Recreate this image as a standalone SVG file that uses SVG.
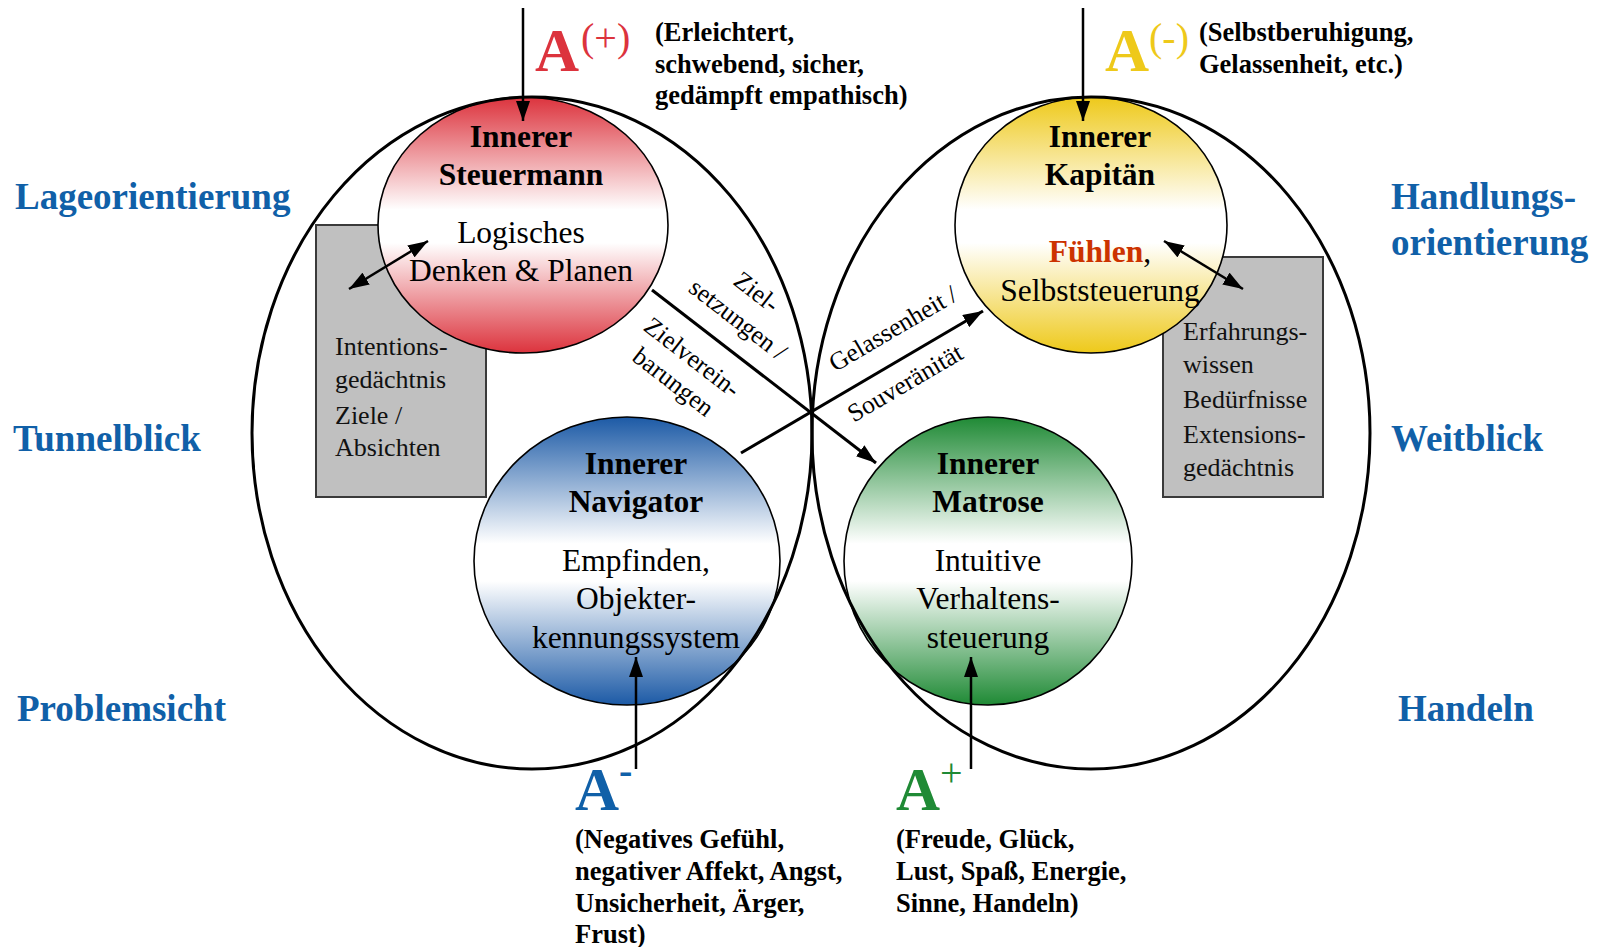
<svg xmlns="http://www.w3.org/2000/svg" width="1597" height="947" viewBox="0 0 1597 947">
<defs>
<style>
text{font-family:"Liberation Serif","Times New Roman",serif;}
.side{font-size:37px;font-weight:bold;fill:#1060a8;}
.ttl{font-size:31.5px;font-weight:bold;fill:#000;text-anchor:middle;}
.body{font-size:31.5px;fill:#000;text-anchor:middle;}
.box{font-size:26px;fill:#111;}
.hdr{font-size:26.5px;font-weight:bold;fill:#000;}
.bigA{font-size:61px;font-weight:bold;}
.sup{font-size:40px;}
.diag{font-size:25.5px;fill:#000;text-anchor:middle;}
.big{fill:none;stroke:#000;stroke-width:3;}
.circ{stroke:#000;stroke-width:1.6;}
.gbox{fill:#c0c0c0;stroke:#3a3a3a;stroke-width:2;}
.con{stroke:#000;stroke-width:3;fill:none;}
.con2{stroke:#000;stroke-width:2.5;fill:none;}
</style>
<linearGradient id="gRed" x1="0" y1="0" x2="0" y2="1">
<stop offset="0" stop-color="#dc333d"/><stop offset="0.44" stop-color="#fff"/><stop offset="0.57" stop-color="#fff"/><stop offset="1" stop-color="#dc333d"/>
</linearGradient>
<linearGradient id="gYel" x1="0" y1="0" x2="0" y2="1">
<stop offset="0" stop-color="#eec91a"/><stop offset="0.44" stop-color="#fff"/><stop offset="0.57" stop-color="#fff"/><stop offset="1" stop-color="#eec91a"/>
</linearGradient>
<linearGradient id="gBlu" x1="0" y1="0" x2="0" y2="1">
<stop offset="0" stop-color="#1c5aa6"/><stop offset="0.44" stop-color="#fff"/><stop offset="0.57" stop-color="#fff"/><stop offset="1" stop-color="#1c5aa6"/>
</linearGradient>
<linearGradient id="gGrn" x1="0" y1="0" x2="0" y2="1">
<stop offset="0" stop-color="#1f8a35"/><stop offset="0.44" stop-color="#fff"/><stop offset="0.57" stop-color="#fff"/><stop offset="1" stop-color="#1f8a35"/>
</linearGradient>
<marker id="ah" viewBox="0 0 20 14" refX="20" refY="7" markerWidth="20" markerHeight="14" markerUnits="userSpaceOnUse" orient="auto-start-reverse">
<path d="M0,0 L20,7 L0,14 z" fill="#000"/>
</marker>
</defs>
<rect x="0" y="0" width="1597" height="947" fill="#fff"/>

<g id="side-labels">
<text class="side" x="15" y="209">Lageorientierung</text>
<text class="side" x="13" y="451">Tunnelblick</text>
<text class="side" x="17" y="721">Problemsicht</text>
<text class="side" x="1391" y="209">Handlungs-</text>
<text class="side" x="1391" y="255">orientierung</text>
<text class="side" x="1391" y="451">Weitblick</text>
<text class="side" x="1398" y="721">Handeln</text>
</g>

<g id="box-intention">
<rect class="gbox" x="316" y="225" width="170" height="272"/>
<text class="box" x="335" y="355">Intentions-</text>
<text class="box" x="335" y="388">gedächtnis</text>
<text class="box" x="335" y="424">Ziele /</text>
<text class="box" x="335" y="456">Absichten</text>
</g>

<g id="box-extension">
<rect class="gbox" x="1163" y="257" width="160" height="240"/>
<text class="box" x="1183" y="340">Erfahrungs-</text>
<text class="box" x="1183" y="373">wissen</text>
<text class="box" x="1183" y="408">Bedürfnisse</text>
<text class="box" x="1183" y="443">Extensions-</text>
<text class="box" x="1183" y="476">gedächtnis</text>
</g>

<g id="node-steuermann">
<ellipse class="circ" cx="523" cy="225" rx="145" ry="128" fill="url(#gRed)"/>
<text class="ttl" x="521" y="147">Innerer</text>
<text class="ttl" x="521" y="185">Steuermann</text>
<text class="body" x="521" y="243">Logisches</text>
<text class="body" x="521" y="281">Denken &amp; Planen</text>
</g>

<g id="node-kapitaen">
<ellipse class="circ" cx="1091" cy="225" rx="136" ry="128" fill="url(#gYel)"/>
<text class="ttl" x="1100" y="147">Innerer</text>
<text class="ttl" x="1100" y="185">Kapitän</text>
<text class="body" x="1100" y="262"><tspan font-weight="bold" fill="#cc3300">Fühlen</tspan>,</text>
<text class="body" x="1100" y="301">Selbststeuerung</text>
</g>

<g id="node-navigator">
<ellipse class="circ" cx="627" cy="561" rx="153" ry="144" fill="url(#gBlu)"/>
<text class="ttl" x="636" y="474">Innerer</text>
<text class="ttl" x="636" y="512">Navigator</text>
<text class="body" x="636" y="571">Empfinden,</text>
<text class="body" x="636" y="609">Objekter-</text>
<text class="body" x="636" y="648">kennungssystem</text>
</g>

<g id="node-matrose">
<ellipse class="circ" cx="988" cy="561" rx="144" ry="144" fill="url(#gGrn)"/>
<text class="ttl" x="988" y="474">Innerer</text>
<text class="ttl" x="988" y="512">Matrose</text>
<text class="body" x="988" y="571">Intuitive</text>
<text class="body" x="988" y="609">Verhaltens-</text>
<text class="body" x="988" y="648">steuerung</text>
</g>

<g id="systems">
<ellipse class="big" cx="532" cy="433" rx="280" ry="336"/>
<ellipse class="big" cx="1091" cy="433" rx="279" ry="336"/>
</g>

<g id="affect-a-plus-paren">
<text class="bigA" x="535" y="71" fill="#dc333d">A</text>
<text class="sup" x="581" y="51" fill="#dc333d">(+)</text>
<text class="hdr" x="655" y="41">(Erleichtert,</text>
<text class="hdr" x="655" y="73">schwebend, sicher,</text>
<text class="hdr" x="655" y="104">gedämpft empathisch)</text>
</g>

<g id="affect-a-minus-paren">
<text class="bigA" x="1105" y="71" fill="#eec91a">A</text>
<text class="sup" x="1149" y="51" fill="#eec91a">(-)</text>
<text class="hdr" x="1199" y="41">(Selbstberuhigung,</text>
<text class="hdr" x="1199" y="73">Gelassenheit, etc.)</text>
</g>

<g id="affect-a-minus">
<text class="bigA" x="575" y="810" fill="#1060a8">A</text>
<text class="sup" x="619" y="784" fill="#1060a8" font-weight="bold">-</text>
<text class="hdr" x="575" y="848">(Negatives Gefühl,</text>
<text class="hdr" x="575" y="880">negativer Affekt, Angst,</text>
<text class="hdr" x="575" y="912">Unsicherheit, Ärger,</text>
<text class="hdr" x="575" y="943">Frust)</text>
</g>

<g id="affect-a-plus">
<text class="bigA" x="896" y="810" fill="#1f8a35">A</text>
<text class="sup" x="940" y="786" fill="#1f8a35">+</text>
<text class="hdr" x="896" y="848">(Freude, Glück,</text>
<text class="hdr" x="896" y="880">Lust, Spaß, Energie,</text>
<text class="hdr" x="896" y="912">Sinne, Handeln)</text>
</g>

<g id="connectors">
<line class="con2" x1="523" y1="8" x2="523" y2="121" marker-end="url(#ah)"/>
<line class="con2" x1="1083" y1="8" x2="1083" y2="121" marker-end="url(#ah)"/>
<line class="con2" x1="636" y1="769" x2="636" y2="657" marker-end="url(#ah)"/>
<line class="con2" x1="971" y1="769" x2="971" y2="657" marker-end="url(#ah)"/>
<line class="con2" x1="349" y1="289" x2="428" y2="241" marker-start="url(#ah)" marker-end="url(#ah)"/>
<line class="con2" x1="1164" y1="241" x2="1243" y2="289" marker-start="url(#ah)" marker-end="url(#ah)"/>
<line class="con" x1="652" y1="290" x2="876" y2="463" marker-end="url(#ah)"/>
<line class="con" x1="741" y1="453" x2="983" y2="311" marker-end="url(#ah)"/>
<g transform="translate(652,290) rotate(37.7)">
<text class="diag" x="84" y="-54">Ziel-</text>
<text class="diag" x="86" y="-21">setzungen /</text>
<text class="diag" x="73" y="37">Zielverein-</text>
<text class="diag" x="73" y="68">barungen</text>
</g>
<g transform="translate(741,453) rotate(-30.4)">
<text class="diag" x="194" y="-22">Gelassenheit /</text>
<text class="diag" x="177" y="31">Souveränität</text>
</g>
</g>
</svg>
